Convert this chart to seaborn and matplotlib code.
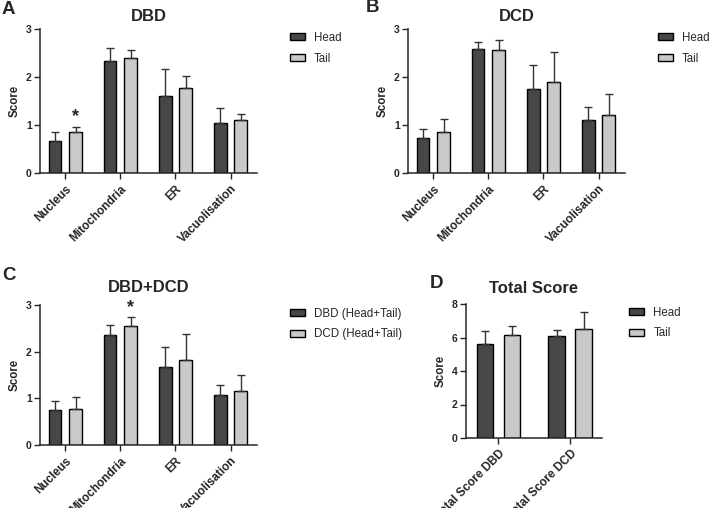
import numpy as np
import pandas as pd
import matplotlib
matplotlib.use("Agg")
import matplotlib.pyplot as plt
import seaborn as sns

sns.set_style("ticks")
plt.rcParams['font.family'] = ['Liberation Sans', 'DejaVu Sans']

# ---------------- data ----------------
categories = ["Nucleus", "Mitochondria", "ER", "Vacuolisation"]

dbd_head = [0.66, 2.33, 1.60, 1.05]
dbd_head_sd = [0.19, 0.27, 0.57, 0.31]
dbd_tail = [0.85, 2.40, 1.78, 1.10]
dbd_tail_sd = [0.11, 0.16, 0.25, 0.12]

dcd_head = [0.72, 2.58, 1.76, 1.11]
dcd_head_sd = [0.20, 0.15, 0.49, 0.26]
dcd_tail = [0.85, 2.56, 1.90, 1.20]
dcd_tail_sd = [0.28, 0.21, 0.63, 0.44]

comb_dbd = [0.74, 2.35, 1.68, 1.07]
comb_dbd_sd = [0.20, 0.22, 0.43, 0.22]
comb_dcd = [0.78, 2.56, 1.82, 1.15]
comb_dcd_sd = [0.24, 0.18, 0.55, 0.35]

total_categories = ["Total Score DBD", "Total Score DCD"]
total_head = [5.63, 6.11]
total_head_sd = [0.74, 0.36]
total_tail = [6.15, 6.51]
total_tail_sd = [0.56, 1.03]

hue_headtail = ["Head", "Tail"]
hue_comb = ["DBD (Head+Tail)", "DCD (Head+Tail)"]

DARK = "#474747"
LIGHT = "#c9c9c9"

W, H = 709, 508
fig = plt.figure(figsize=(W / 100, H / 100), dpi=100)


def px_axes(left, top, right, bottom):
    return fig.add_axes([left / W, (H - bottom) / H, (right - left) / W, (bottom - top) / H])


def panel(ax, cats, hues, vals1, sd1, vals2, sd2, title, ymax, ystep, xlim,
          title_pad, legend_anchor, stars=()):
    df = pd.DataFrame({
        "cat": list(cats) * 2,
        "grp": [hues[0]] * len(cats) + [hues[1]] * len(cats),
        "val": list(vals1) + list(vals2),
    })
    sds = list(sd1) + list(sd2)
    sns.barplot(data=df, x="cat", y="val", hue="grp", order=cats, hue_order=hues,
                palette=[DARK, LIGHT], errorbar=None, width=0.75, gap=0.38,
                edgecolor="black", linewidth=1.0, saturation=1, ax=ax, legend=False)
    bar_conts = list(ax.containers)
    bar_pos = {}
    for h_i, cont in enumerate(bar_conts):
        for c_i, bar in enumerate(cont.patches):
            x = bar.get_x() + bar.get_width() / 2
            y = bar.get_height()
            e = sds[h_i * len(cats) + c_i]
            ax.errorbar([x], [y], yerr=[[0], [e]], fmt="none", ecolor="#333333",
                        elinewidth=1.0, capsize=3, capthick=1.0, zorder=1)
            bar_pos[(h_i, c_i)] = (x, y + e)
    for (h_i, c_i) in stars:
        x, y = bar_pos[(h_i, c_i)]
        ax.annotate("*", (x, y), xytext=(0, 1), textcoords="offset points",
                    ha="center", va="bottom", fontsize=13, fontweight="bold")
    ax.set_ylim(0, ymax)
    ax.set_yticks(np.arange(0, ymax + 0.01, ystep))
    ax.set_xlim(*xlim)
    ax.set_xlabel("")
    ax.set_ylabel("Score", fontsize=8.3, fontweight="bold", labelpad=4)
    ax.set_title(title, fontsize=12, fontweight="bold", pad=title_pad)
    for lab in ax.get_yticklabels():
        lab.set_fontweight("bold")
        lab.set_fontsize(7.5)
    ax.set_xticks(range(len(cats)))
    ax.set_xticklabels(cats, rotation=45, ha="right", rotation_mode="anchor",
                       fontsize=8.5, fontweight="bold")
    ax.tick_params(axis="both", direction="out", length=4, width=1.0, pad=2)
    ax.tick_params(axis="x", pad=3)
    for s in ["top", "right"]:
        ax.spines[s].set_visible(False)
    for s in ["left", "bottom"]:
        ax.spines[s].set_linewidth(1.1)
    ax.legend(bar_conts, hues, loc="upper left", bbox_to_anchor=legend_anchor,
              frameon=False, fontsize=8.3, handlelength=1.3, handleheight=0.55,
              handletextpad=0.8, labelspacing=0.75, borderaxespad=0, borderpad=0)


axA = px_axes(40, 29, 257, 173)
panel(axA, categories, hue_headtail, dbd_head, dbd_head_sd, dbd_tail, dbd_tail_sd,
      "DBD", 3, 1, (-0.46, 3.48), 6, (1.15, 0.98), stars=[(1, 0)])

axB = px_axes(408, 29, 625, 173)
panel(axB, categories, hue_headtail, dcd_head, dcd_head_sd, dcd_tail, dcd_tail_sd,
      "DCD", 3, 1, (-0.46, 3.48), 6, (1.15, 0.98))

axC = px_axes(40, 305, 257, 445)
panel(axC, categories, hue_comb, comb_dbd, comb_dbd_sd, comb_dcd, comb_dcd_sd,
      "DBD+DCD", 3, 1, (-0.46, 3.48), 9, (1.15, 0.98), stars=[(1, 1)])

axD = px_axes(466, 304, 602, 438)
panel(axD, total_categories, hue_headtail, total_head, total_head_sd, total_tail,
      total_tail_sd, "Total Score", 8, 2, (-0.45, 1.44), 8, (1.2, 0.98))

for letter, x, y in [("A", 2, 10), ("B", 366, 8), ("C", 2, 276), ("D", 430, 283)]:
    fig.text(x / W, 1 - y / H, letter, fontsize=13.5, fontweight="bold",
             ha="left", va="center")

fig.savefig("out.png", dpi=100)
